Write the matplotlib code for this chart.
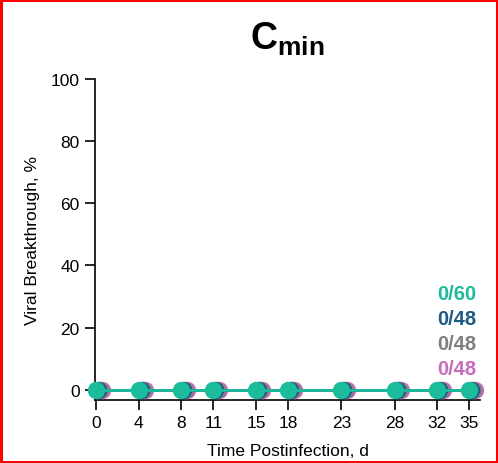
import numpy as np
from matplotlib import pyplot as plt
from matplotlib import transforms

plt.rcParams['font.family'] = ['Liberation Sans', 'DejaVu Sans']
plt.rcParams['mathtext.fontset'] = 'custom'
plt.rcParams['mathtext.bf'] = 'Liberation Sans:bold'
plt.rcParams['mathtext.rm'] = 'Liberation Sans'

days = [0, 4, 8, 11, 15, 18, 23, 28, 32, 35]
series = ['pink', 'gray', 'navy', 'teal']
breakthrough = {
    'pink': [0, 0, 0, 0, 0, 0, 0, 0, 0, 0],
    'gray': [0, 0, 0, 0, 0, 0, 0, 0, 0, 0],
    'navy': [0, 0, 0, 0, 0, 0, 0, 0, 0, 0],
    'teal': [0, 0, 0, 0, 0, 0, 0, 0, 0, 0],
}
counts = ['0/60', '0/48', '0/48', '0/48']
count_order = ['teal', 'navy', 'gray', 'pink']
colors = {'teal': '#1bbc9b', 'navy': '#1d5a84', 'gray': '#7f7f7f', 'pink': '#c76dbc'}

fig = plt.figure(figsize=(4.98, 4.64), dpi=100)
fig.patch.set_edgecolor('red')
fig.patch.set_linewidth(2.5)
ax = fig.add_axes([0.191, 0.136, 0.773, 0.692])

shifts = {'pink': 6, 'gray': 4, 'navy': 2, 'teal': 0}
for s in series:
    tr = ax.transData + transforms.ScaledTranslation(shifts[s] / 100, 0, fig.dpi_scale_trans)
    ax.plot(days, breakthrough[s], '-o', color=colors[s], markersize=11.5,
            linewidth=2, transform=tr, clip_on=False, zorder=3)

ax.set_xlim(-0.1, 36)
ax.set_ylim(-3.2, 100)
ax.set_xticks(days)
ax.set_yticks([0, 20, 40, 60, 80, 100])
ax.spines['top'].set_visible(False)
ax.spines['right'].set_visible(False)
ax.spines['left'].set_bounds(-3.2, 100)
ax.tick_params(labelsize=12.5, width=1.2, length=7, pad=4)
for sp in ['left', 'bottom']:
    ax.spines[sp].set_linewidth(1.2)
ax.set_xlabel('Time Postinfection, d', fontsize=12.5, labelpad=9)
ax.set_ylabel('Viral Breakthrough, %', fontsize=12.5, labelpad=8)
ax.set_title(r'$\mathbf{C_{min}}$', fontsize=27, pad=22)

for i, (s, c) in enumerate(zip(count_order, counts)):
    ax.text(0.94, 0.33 - i * 0.077, c, transform=ax.transAxes, color=colors[s],
            fontsize=14.5, fontweight='bold', ha='center', va='center')

fig.savefig('out.png', dpi=100, edgecolor=fig.get_edgecolor())
